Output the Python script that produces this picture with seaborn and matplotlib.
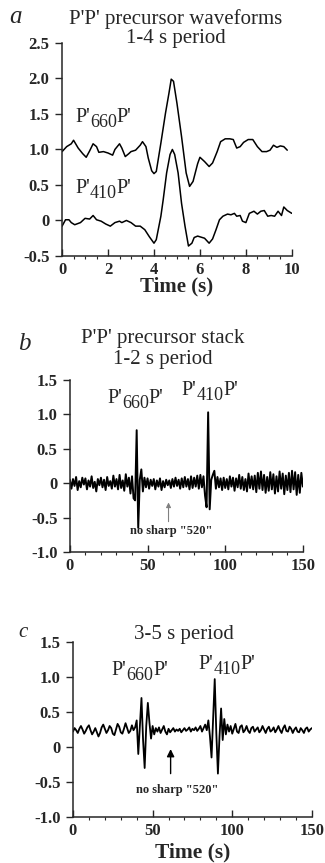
"""
P'P' precursor waveforms and stacks (three stacked panels)
"""

import numpy as np
import matplotlib
matplotlib.use("Agg")
import matplotlib.pyplot as plt
import seaborn as sns
from matplotlib.ticker import MultipleLocator
from matplotlib.transforms import offset_copy

sns.set_style("ticks")
plt.rcParams['font.family'] = ['Liberation Serif', 'DejaVu Serif']

# ---- panel a: 1-4 s period waveforms ----
a_660_time = [0, 0.2, 0.4, 0.5, 0.7, 0.9, 1.05, 1.2, 1.35, 1.5, 1.6, 1.8, 2.0, 2.2, 2.3,
              2.5, 2.6, 2.75, 2.9, 3.0, 3.2, 3.4, 3.5, 3.65, 3.75, 3.9, 4.0, 4.1, 4.3, 4.5,
              4.65, 4.75, 4.85, 5.0, 5.2, 5.4, 5.55, 5.7, 5.9, 6.0, 6.2, 6.4, 6.55, 6.75, 6.9,
              7.1, 7.3, 7.45, 7.6, 7.75, 7.9, 8.1, 8.3, 8.5, 8.7, 8.9, 9.05, 9.2, 9.35, 9.5,
              9.65, 9.8]
a_660_amp = [0.97, 1.04, 1.08, 1.13, 1.02, 0.94, 0.89, 0.98, 1.08, 1.04, 0.96, 0.97, 0.95, 0.92, 1.0,
             1.08, 1.02, 0.90, 0.94, 0.97, 0.99, 1.06, 1.11, 1.04, 0.88, 0.70, 0.66, 0.69, 1.09, 1.51,
             1.79, 1.99, 1.96, 1.65, 1.18, 0.67, 0.48, 0.55, 0.80, 0.89, 0.83, 0.76, 0.81, 0.97, 1.11,
             1.15, 1.15, 1.14, 1.02, 1.04, 1.10, 1.14, 1.14, 1.04, 0.97, 0.97, 0.99, 1.06, 1.03, 1.05,
             1.04, 0.99]

a_410_time = [0, 0.15, 0.3, 0.4, 0.55, 0.8, 1.0, 1.2, 1.35, 1.5, 1.7, 1.9, 2.1, 2.3, 2.5,
              2.6, 2.8, 3.0, 3.2, 3.4, 3.6, 3.8, 4.0, 4.1, 4.3, 4.4, 4.55, 4.7, 4.8, 4.9,
              5.05, 5.2, 5.35, 5.5, 5.65, 5.75, 5.9, 6.1, 6.2, 6.4, 6.55, 6.7, 6.85, 7.0, 7.2,
              7.35, 7.5, 7.6, 7.75, 7.85, 8.0, 8.15, 8.35, 8.5, 8.65, 8.8, 8.95, 9.1, 9.25, 9.4,
              9.55, 9.65, 9.8, 10.0]
a_410_amp = [-0.08, 0.01, 0.01, -0.03, -0.06, -0.03, 0.03, 0.02, 0.07, 0.01, -0.01, -0.05, -0.08, -0.03, -0.01,
             -0.03, 0.0, -0.03, -0.08, -0.08, -0.13, -0.23, -0.32, -0.27, 0.06, 0.29, 0.67, 0.93, 1.0, 0.93,
             0.67, 0.24, -0.08, -0.36, -0.32, -0.24, -0.22, -0.24, -0.25, -0.32, -0.26, -0.13, 0.01, 0.06, 0.09,
             0.08, 0.10, 0.06, 0.07, -0.01, -0.03, 0.10, 0.13, 0.09, 0.13, 0.14, 0.06, 0.07, 0.06, 0.13,
             0.07, 0.19, 0.14, 0.10]

a_yticks = [-0.5, 0, 0.5, 1.0, 1.5, 2.0, 2.5]
a_yticklabels = ['-0.5', '0', '0.5', '1.0', '1.5', '2.0', '2.5']
a_xticks = [0, 2, 4, 6, 8, 10]

# ---- panel b: 1-2 s period stack (one sample per second) ----
b_amp = [0.05, -0.08, 0.06, -0.04, 0.09, -0.10, 0.03, -0.06, 0.08, -0.02,
         0.07, -0.09, 0.04, -0.05, 0.10, -0.07, 0.02, -0.12, 0.06, -0.03,
         0.08, -0.06, 0.05, -0.10, 0.09, -0.04, 0.03, -0.08, 0.11, -0.05,
         0.06, -0.09, 0.12, -0.07, 0.04, -0.11, 0.13, -0.05, 0.08, -0.15,
         0.10, -0.22, -0.25, 0.77, -0.65, 0.05, 0.20, -0.12, 0.08, -0.06,
         0.07, -0.08, 0.05, -0.04, 0.06, -0.09, 0.04, -0.05, 0.07, -0.10,
         0.03, -0.06, 0.05, -0.03, 0.04, -0.07, 0.06, -0.05, 0.08, -0.04,
         0.05, -0.08, 0.07, -0.06, 0.09, -0.05, 0.06, -0.09, 0.10, -0.07,
         0.08, -0.05, 0.11, -0.08, 0.12, -0.06, 0.10, -0.18, -0.35, 1.03,
         -0.38, 0.05, 0.12, 0.18, -0.08, 0.09, -0.06, 0.07, -0.10, 0.08,
         -0.07, 0.06, -0.09, 0.10, -0.05, 0.08, -0.11, 0.07, -0.06, 0.12,
         -0.08, 0.09, -0.10, 0.06, -0.12, 0.14, -0.07, 0.10, -0.09, 0.11,
         -0.13, 0.15, -0.08, 0.17, -0.10, 0.12, -0.14, 0.09, -0.11, 0.16,
         -0.09, 0.13, -0.15, 0.10, -0.12, 0.17, -0.08, 0.14, -0.16, 0.11,
         -0.10, 0.15, -0.13, 0.18, -0.09, 0.16, -0.17, 0.12, -0.14, 0.15,
         -0.05]
b_time = np.arange(len(b_amp))

# ---- panel c: 3-5 s period stack (one sample per second) ----
c_amp = [0.22, 0.27, 0.24, 0.20, 0.26, 0.30, 0.25, 0.19, 0.23, 0.28,
         0.31, 0.24, 0.18, 0.22, 0.27, 0.21, 0.15, 0.20, 0.28, 0.32,
         0.26, 0.20, 0.24, 0.30, 0.27, 0.19, 0.17, 0.25, 0.33, 0.29,
         0.21, 0.19, 0.26, 0.34, 0.27, 0.20, 0.23, 0.31, 0.24, 0.28,
         0.38, -0.10, 0.30, 0.70, 0.10, -0.30, 0.30, 0.63, 0.35, 0.12,
         0.30, 0.18, 0.27, 0.22, 0.28, 0.20, 0.25, 0.30, 0.22, 0.18,
         0.26, 0.21, 0.24, 0.27, 0.22, 0.25, 0.23, 0.26, 0.21, 0.24,
         0.27, 0.23, 0.25, 0.28, 0.22, 0.26, 0.24, 0.28, 0.23, 0.26,
         0.30, 0.22, 0.27, 0.32, 0.24, 0.38, 0.15, -0.15, 0.40, 0.97,
         0.20, -0.38, 0.15, 0.55, 0.10, 0.40, 0.18, 0.32, 0.22, 0.30,
         0.19, 0.26, 0.33, 0.22, 0.20, 0.29, 0.31, 0.21, 0.24, 0.30,
         0.23, 0.20, 0.27, 0.29, 0.22, 0.25, 0.28, 0.21, 0.24, 0.30,
         0.25, 0.20, 0.26, 0.29, 0.22, 0.24, 0.28, 0.21, 0.25, 0.30,
         0.24, 0.20, 0.27, 0.31, 0.23, 0.22, 0.29, 0.26, 0.20, 0.25,
         0.28, 0.22, 0.21, 0.27, 0.24, 0.20, 0.26, 0.28, 0.22, 0.25,
         0.27]
c_time = np.arange(len(c_amp))

bc_yticks = [-1.0, -0.5, 0, 0.5, 1.0, 1.5]
bc_yticklabels = ['-1.0', '-0.5', '0', '0.5', '1.0', '1.5']
bc_xticks = [0, 50, 100, 150]

TICK_FS = 12
LABEL_FS = 14.5
TITLE_FS = 15


def style_axis(ax, xticks, yticks, yticklabels, xminor, xlim, ylim):
    sns.despine(ax=ax)
    ax.set_xlim(*xlim)
    ax.set_ylim(*ylim)
    ax.set_xticks(xticks)
    ax.set_yticks(yticks)
    ax.set_yticklabels(yticklabels)
    ax.xaxis.set_minor_locator(MultipleLocator(xminor))
    ax.tick_params(axis='x', which='major', direction='in', length=5, width=1, pad=4)
    ax.tick_params(axis='x', which='minor', direction='out', length=2, width=0.8)
    ax.tick_params(axis='y', which='major', direction='out', length=5, width=1, pad=4)
    for lab in ax.get_xticklabels() + ax.get_yticklabels():
        lab.set_fontsize(TICK_FS)
        lab.set_fontweight('bold')
    for s in ['left', 'bottom']:
        ax.spines[s].set_linewidth(1.1)
    ax.set_xlabel('')
    ax.set_ylabel('')


def phase_label(ax, x, y, sub):
    """Write P'<sub>P' with a full-size, lowered subscript."""
    fig = ax.figure
    renderer = fig.canvas.get_renderer()
    t1 = ax.text(x, y, "P'", fontsize=LABEL_FS, va='baseline')
    w1 = t1.get_window_extent(renderer).width
    t2 = ax.text(x, y, sub, fontsize=LABEL_FS - 1.5, va='baseline',
                 transform=offset_copy(ax.transData, fig=fig, x=w1, y=-5, units='dots'))
    w2 = t2.get_window_extent(renderer).width
    ax.text(x, y, "P'", fontsize=LABEL_FS, va='baseline',
            transform=offset_copy(ax.transData, fig=fig, x=w1 + w2, y=0, units='dots'))


fig = plt.figure(figsize=(3.25, 8.63), dpi=100)
fig.patch.set_facecolor('white')

# panel a
ax_a = fig.add_axes([0.191, 0.7034, 0.707, 0.2468])
sns.lineplot(x=a_660_time, y=a_660_amp, color='black', linewidth=1.1, ax=ax_a)
sns.lineplot(x=a_410_time, y=a_410_amp, color='black', linewidth=1.1, ax=ax_a)
style_axis(ax_a, a_xticks, a_yticks, a_yticklabels, 0.5, (0, 10), (-0.5, 2.5))
ax_a.set_xlabel('Time (s)', fontsize=15, fontweight='bold', labelpad=-0.5)
phase_label(ax_a, 0.57, 1.39, '660')
phase_label(ax_a, 0.57, 0.39, '410')
fig.text(0.54, 0.9666, "P'P' precursor waveforms\n1-4 s period", ha='center', va='center',
         fontsize=TITLE_FS, linespacing=1.0)
fig.text(0.03, 0.980, 'a', fontsize=18, style='italic', ha='left', va='center')

# panel b
ax_b = fig.add_axes([0.215, 0.3604, 0.717, 0.1993])
sns.lineplot(x=b_time, y=b_amp, color='black', linewidth=1.4, ax=ax_b)
style_axis(ax_b, bc_xticks, bc_yticks, bc_yticklabels, 10, (0, 150), (-1.0, 1.5))
phase_label(ax_b, 24, 1.17, '660')
phase_label(ax_b, 72, 1.28, '410')
ax_b.annotate('', xy=(63.5, -0.24), xytext=(63.5, -0.6),
              arrowprops=dict(arrowstyle='-|>', color='gray', lw=0.8, mutation_scale=7))
ax_b.text(65, -0.7, 'no sharp "520"', fontsize=9, fontweight='bold', ha='center', va='center')
fig.text(0.50, 0.5956, "P'P' precursor stack\n1-2 s period", ha='center', va='center',
         fontsize=TITLE_FS, linespacing=1.1)
fig.text(0.055, 0.601, 'b', fontsize=18, style='italic', ha='left', va='center')

# panel c
ax_c = fig.add_axes([0.2246, 0.0533, 0.735, 0.2028])
sns.lineplot(x=c_time, y=c_amp, color='black', linewidth=1.3, ax=ax_c)
style_axis(ax_c, bc_xticks, bc_yticks, bc_yticklabels, 10, (0, 150), (-1.0, 1.5))
ax_c.set_xlabel('Time (s)', fontsize=15.5, fontweight='bold', labelpad=3)
phase_label(ax_c, 24.4, 1.03, '660')
phase_label(ax_c, 79, 1.11, '410')
ax_c.annotate('', xy=(61.3, 0.01), xytext=(61.3, -0.42),
              arrowprops=dict(arrowstyle='-|>', color='black', lw=1.0, mutation_scale=11))
ax_c.text(65.6, -0.62, 'no sharp "520"', fontsize=9, fontweight='bold', ha='center', va='center')
fig.text(0.565, 0.2642, '3-5 s period', ha='center', va='center', fontsize=TITLE_FS)
fig.text(0.055, 0.267, 'c', fontsize=15, style='italic', ha='left', va='center')

plt.savefig('out.png', dpi=100, facecolor='white')
